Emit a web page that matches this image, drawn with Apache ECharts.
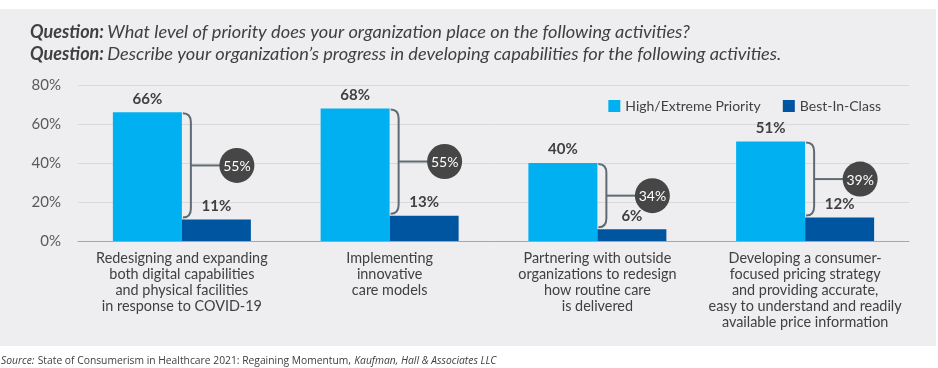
<!DOCTYPE html>
<html>
<head>
<meta charset="utf-8">
<script src="https://cdn.jsdelivr.net/npm/echarts@6/dist/echarts.min.js"></script>
<style>html,body{margin:0;padding:0;background:#fff}#c{width:938px;height:368px}</style>
</head>
<body>
<div id="c"></div>
<script>
const categories = [
  'Redesigning and expanding\nboth digital capabilities\nand physical facilities\nin response to COVID-19',
  'Implementing\ninnovative\ncare models',
  'Partnering with outside\norganizations to redesign\nhow routine care\nis delivered',
  'Developing a consumer-\nfocused pricing strategy\nand providing accurate,\neasy to understand and readily\navailable price information'
];
const highPriority = [66, 68, 40, 51];
const bestInClass = [11, 13, 6, 12];
const gaps = [55, 55, 34, 39];
const seriesNames = ['High/Extreme Priority', 'Best-In-Class'];
const yTicks = [0, 20, 40, 60, 80];

const FONT = 'Lato';
const chart = echarts.init(document.getElementById('c'), null, {renderer: 'canvas'});

const bracketData = categories.map((c, i) => [i, highPriority[i], bestInClass[i], gaps[i]]);

const option = {
  backgroundColor: '#ffffff',
  animation: false,
  textStyle: {fontFamily: FONT},
  graphic: [
    {type: 'rect', z: -10, silent: true, shape: {x: 0, y: 9, width: 936, height: 337}, style: {fill: '#eeeef0'}},
    {type: 'text', left: 30, top: 23, z: 10, style: {
      text: '{b|Question:} {i|What level of priority does your organization place on the following activities?}\n{b|Question:} {i|Describe your organization\u2019s progress in developing capabilities for the following activities.}',
      rich: {
        b: {fontFamily: FONT, fontStyle: 'italic', fontWeight: 'bold', fontSize: 18, fill: '#404040', lineHeight: 22},
        i: {fontFamily: FONT, fontStyle: 'italic', fontSize: 18.2, fill: '#404040', lineHeight: 22}
      }
    }},
    {type: 'text', left: 1, top: 355, z: 10, style: {
      text: '{i|Source:} {n|State of Consumerism in Healthcare 2021: Regaining Momentum,} {i|Kaufman, Hall & Associates LLC}',
      rich: {
        i: {fontFamily: 'Open Sans', fontStyle: 'italic', fontSize: 10.3, fill: '#404040'},
        n: {fontFamily: 'Open Sans', fontSize: 10.3, fill: '#404040'}
      }
    }}
  ],
  legend: {
    data: seriesNames,
    right: 52, top: 94,
    itemWidth: 12, itemHeight: 12, itemGap: 22,
    icon: 'rect',
    textStyle: {fontFamily: FONT, fontSize: 14, color: '#404040'}
  },
  grid: {left: 78, right: 29, top: 85, bottom: 127, containLabel: false},
  xAxis: {
    type: 'category',
    data: categories,
    axisTick: {show: false},
    axisLine: {lineStyle: {color: '#a6a6a6', width: 1}},
    axisLabel: {interval: 0, margin: 9, fontFamily: FONT, fontSize: 14.4, color: '#404040', lineHeight: 16}
  },
  yAxis: {
    type: 'value', min: yTicks[0], max: yTicks[yTicks.length - 1], interval: 20,
    axisLine: {show: false}, axisTick: {show: false},
    splitLine: {lineStyle: {color: '#d9d9d9', width: 1}},
    axisLabel: {formatter: '{value}%', margin: 17, fontFamily: FONT, fontSize: 15, color: '#595959'}
  },
  series: [
    {
      name: seriesNames[0], type: 'bar', data: highPriority, barWidth: 69, barGap: '0%',
      itemStyle: {color: '#00b0f0'},
      label: {show: true, position: 'top', distance: 6, formatter: '{c}%', fontFamily: FONT, fontWeight: 'bold', fontSize: 15, color: '#404040'}
    },
    {
      name: seriesNames[1], type: 'bar', data: bestInClass, barWidth: 69,
      itemStyle: {color: '#0055a0'},
      label: {show: true, position: 'top', distance: 6, formatter: '{c}%', fontFamily: FONT, fontWeight: 'bold', fontSize: 15, color: '#404040'}
    },
    {
      name: 'gap', type: 'custom', data: bracketData, z: 5, clip: false,
      encode: {x: 0, y: [1, 2]},
      renderItem: function (params, api) {
        const i = api.value(0);
        const t = api.coord([i, api.value(1)]);
        const b = api.coord([i, api.value(2)]);
        const cx = t[0];
        const x0 = cx + 1, x1 = cx + 9;
        const yT = t[1] + 1, yB = b[1] - 2;
        const ym = (yT + yB) / 2;
        const ccx = cx + 55, r = 17.5;
        const path = 'M' + x0 + ' ' + yT + ' Q' + x1 + ' ' + yT + ' ' + x1 + ' ' + (yT + 9) +
          ' L' + x1 + ' ' + (yB - 9) + ' Q' + x1 + ' ' + yB + ' ' + x0 + ' ' + yB;
        return {
          type: 'group',
          children: [
            {type: 'path', shape: {pathData: path}, style: {fill: 'none', stroke: '#5f6b73', lineWidth: 2}},
            {type: 'line', shape: {x1: x1, y1: ym, x2: ccx - r + 1, y2: ym}, style: {stroke: '#5f6b73', lineWidth: 2}},
            {type: 'circle', shape: {cx: ccx, cy: ym, r: r}, style: {fill: '#464646'}},
            {type: 'text', style: {x: ccx, y: ym + 1, text: api.value(3) + '%', align: 'center', verticalAlign: 'middle',
              fontFamily: FONT, fontSize: 14, fill: '#ffffff'}}
          ]
        };
      }
    }
  ]
};
chart.setOption(option);
</script>
</body>
</html>
